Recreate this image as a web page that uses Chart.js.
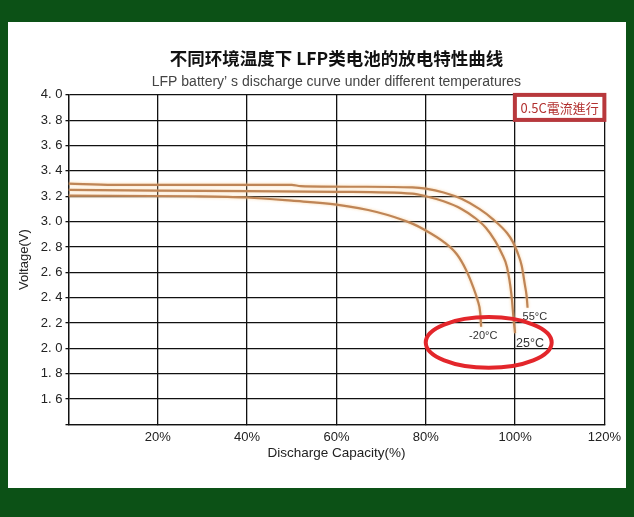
<!DOCTYPE html>
<html>
<head>
<meta charset="utf-8">
<script src="https://cdn.jsdelivr.net/npm/chart.js@4/dist/chart.umd.min.js"></script>
<style>
  html, body { margin: 0; padding: 0; background: #0c5116; }
  body { width: 634px; height: 517px; position: relative; overflow: hidden; }
  #panel { position: absolute; left: 8px; top: 22px; width: 618px; height: 466px; background: #fff; }
</style>
</head>
<body>
<div id="panel"><canvas id="dischargeChart"></canvas></div>
<script>
// discharge capacity (%) / voltage (V)
var cap55 = [0, 10, 30, 50, 52, 65, 77, 80, 84, 88, 92, 95, 98.2, 99.5, 100.5, 101.5, 102.2, 102.6, 102.8];
var volt55 = [3.30, 3.29, 3.29, 3.29, 3.28, 3.275, 3.27, 3.26, 3.23, 3.18, 3.10, 3.02, 2.91, 2.84, 2.76, 2.65, 2.50, 2.41, 2.32];

var cap25 = [0, 20, 40, 60, 77, 80, 84, 88, 91, 93.5, 95.5, 97, 98.2, 99.2, 99.7, 100];
var volt25 = [3.25, 3.245, 3.24, 3.235, 3.22, 3.20, 3.16, 3.10, 3.03, 2.95, 2.85, 2.75, 2.64, 2.42, 2.22, 2.12];

var capM20 = [0, 28, 40, 50, 60, 69, 77, 80, 84, 87, 89, 90.6, 91.6, 92.2, 92.4];
var voltM20 = [3.205, 3.20, 3.19, 3.165, 3.134, 3.076, 2.984, 2.93, 2.84, 2.74, 2.62, 2.485, 2.38, 2.28, 2.17];

var seriesNames = ['55°C', '25°C', '-20°C'];

var xTicks = [0, 20, 40, 60, 80, 100, 120];
var yMin = 1.4, yMax = 4.0, yStep = 0.2;

// red ellipse around the end of discharge (centre in data units)
var ringCenter = [94.1, 2.046];
var ringRadius = [14.1, 0.2];

var toPoints = (xs, ys) => xs.map((x, i) => ({ x: x, y: ys[i] }));

var curveColor = '#bf8556';

var dischargeNotes = {
    id: 'dischargeNotes',
    beforeDatasetsDraw(chart) {
        var ctx = chart.ctx;
        ctx.save();
        ctx.shadowColor = 'rgba(248, 205, 150, 0.9)';
        ctx.shadowBlur = 3;
    },
    afterDatasetsDraw(chart) {
        var ctx = chart.ctx;
        ctx.restore();

        var xs = chart.scales.x, ys = chart.scales.y, area = chart.chartArea;

        // temperature labels next to the last point of each curve
        var offsets = [[-5, 9, 11], [1, 10, 12.5], [-12, 9, 11]];
        chart.data.datasets.forEach((ds, i) => {
            var last = ds.data[ds.data.length - 1];
            var px = xs.getPixelForValue(last.x), py = ys.getPixelForValue(last.y);
            ctx.save();
            ctx.font = offsets[i][2] + 'px "Liberation Sans", Arial, sans-serif';
            ctx.fillStyle = '#333';
            ctx.textBaseline = 'middle';
            ctx.textAlign = 'left';
            ctx.fillText(ds.label, px + offsets[i][0], py + offsets[i][1]);
            ctx.restore();
        });

        // red ring
        var cx = xs.getPixelForValue(ringCenter[0]), cy = ys.getPixelForValue(ringCenter[1]);
        var rx = Math.abs(xs.getPixelForValue(ringCenter[0] + ringRadius[0]) - cx);
        var ry = Math.abs(ys.getPixelForValue(ringCenter[1] + ringRadius[1]) - cy);
        ctx.save();
        ctx.strokeStyle = '#e3262b';
        ctx.lineWidth = 4;
        ctx.beginPath();
        ctx.ellipse(cx, cy, rx, ry, 0, 0, Math.PI * 2);
        ctx.stroke();
        ctx.restore();

        // current rate box, top right corner of the plot
        var bw = 89.5, bh = 25;
        var bx = area.right - bw, by = area.top;
        ctx.save();
        ctx.fillStyle = '#fff';
        ctx.fillRect(bx, by, bw, bh);
        ctx.strokeStyle = '#b8383c';
        ctx.lineWidth = 4;
        ctx.strokeRect(bx, by, bw, bh);
        ctx.fillStyle = '#b2302f';
        ctx.font = '13px "Noto Sans CJK TC", sans-serif';
        ctx.textAlign = 'center';
        ctx.textBaseline = 'middle';
        ctx.fillText('0.5C電流進行', bx + bw / 2, by + bh / 2 + 1);
        ctx.restore();
    }
};

var ctx = document.getElementById('dischargeChart').getContext('2d');
var myChart = new Chart(ctx, {
    type: 'scatter',
    data: {
        datasets: [
            { label: seriesNames[0], data: toPoints(cap55, volt55) },
            { label: seriesNames[1], data: toPoints(cap25, volt25) },
            { label: seriesNames[2], data: toPoints(capM20, voltM20) }
        ].map(ds => Object.assign(ds, {
            showLine: true,
            borderColor: curveColor,
            backgroundColor: curveColor,
            borderWidth: 2.2,
            pointRadius: 0,
            pointHoverRadius: 0,
            cubicInterpolationMode: 'monotone',
            fill: false
        }))
    },
    options: {
        responsive: true,
        maintainAspectRatio: false,
        animation: false,
        events: [],
        layout: { padding: { left: 0, right: 21.5, top: 0, bottom: 8.7 } },
        plugins: {
            legend: { display: false },
            tooltip: { enabled: false },
            title: {
                display: true,
                fullSize: false,
                text: '不同环境温度下 LFP类电池的放电特性曲线',
                color: '#111',
                font: { family: '"Noto Sans CJK SC", sans-serif', size: 17.5, weight: 'bold', lineHeight: 1.2 },
                padding: { top: 25.8, bottom: 0 }
            },
            subtitle: {
                display: true,
                fullSize: false,
                text: 'LFP battery’ s discharge curve under different temperatures',
                color: '#444',
                font: { family: '"Liberation Sans", Arial, sans-serif', size: 14, lineHeight: 1.2 },
                padding: { top: 5.4, bottom: 3.9 }
            }
        },
        scales: {
            x: {
                type: 'linear',
                min: xTicks[0],
                max: xTicks[xTicks.length - 1],
                afterBuildTicks: axis => { axis.ticks = xTicks.map(v => ({ value: v })); },
                afterFit: axis => { axis.height = 55; },
                grid: { color: '#111', lineWidth: 1.3, tickLength: 0 },
                border: { color: '#111', width: 1.3 },
                ticks: {
                    padding: 5,
                    color: '#222',
                    font: { family: '"Liberation Sans", Arial, sans-serif', size: 13 },
                    maxRotation: 0,
                    callback: v => v === 0 ? '' : v + '%'
                },
                title: {
                    display: true,
                    text: 'Discharge Capacity(%)',
                    color: '#222',
                    font: { family: '"Liberation Sans", Arial, sans-serif', size: 13.5, lineHeight: 1.2 },
                    padding: { top: 0, bottom: 17.5 }
                }
            },
            y: {
                min: yMin,
                max: yMax,
                afterFit: axis => { axis.width = 60.5; },
                grid: {
                    color: '#111',
                    lineWidth: 1.3,
                    tickLength: 3
                },
                border: { color: '#111', width: 1.3 },
                ticks: {
                    stepSize: yStep,
                    padding: 3,
                    color: '#222',
                    font: { family: '"Liberation Sans", Arial, sans-serif', size: 13 },
                    callback: v => v < yMin + 0.01 ? '' : v.toFixed(1).replace('.', '. ')
                },
                title: {
                    display: true,
                    text: 'Voltage(V)',
                    color: '#222',
                    font: { family: '"Liberation Sans", Arial, sans-serif', size: 13, lineHeight: 1.2 },
                    padding: { top: 9, bottom: 0 }
                }
            }
        }
    },
    plugins: [dischargeNotes]
});
</script>
</body>
</html>
